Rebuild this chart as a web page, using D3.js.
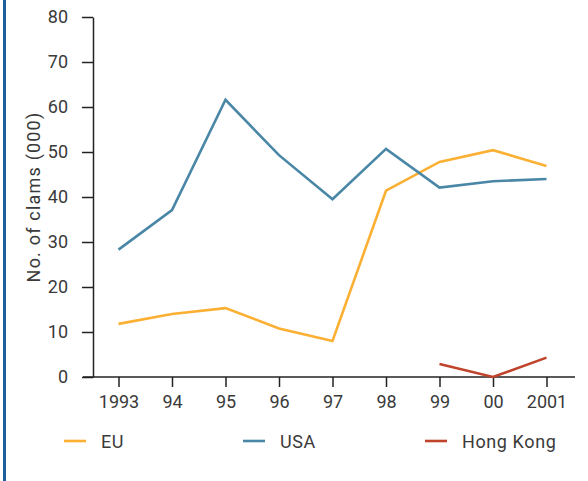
<!DOCTYPE html>
<html>
<head>
<meta charset="utf-8">
<script src="https://cdn.jsdelivr.net/npm/d3@7"></script>
<style>
  body { margin: 0; background: #fff; }
  text { font-family: "Roboto", "DejaVu Sans", sans-serif; fill: #3a3a3a; }
</style>
</head>
<body>
<div id="graphId"></div>
<script>
var years = ["1993", "94", "95", "96", "97", "98", "99", "00", "2001"];
var euValues = [11.8, 14, 15.3, 10.8, 8, 41.4, 47.8, 50.4, 46.9];
var usaValues = [28.3, 37.1, 61.6, 49.3, 39.5, 50.7, 42.1, 43.5, 44];
var hkValues = [null, null, null, null, null, null, 2.9, 0, 4.3];
var yTicks = [0, 10, 20, 30, 40, 50, 60, 70, 80];
var seriesNames = ["EU", "USA", "Hong Kong"];
var seriesColors = ["#fbb034", "#4a87a7", "#c0432c"];

var wt = 588;
var ht = 481;
var fontSize = "18px";

var svg = d3.select("#graphId").append("svg")
    .attr("width", wt)
    .attr("height", ht);

// left blue rule
svg.append("rect")
    .attr("x", 3)
    .attr("y", 0)
    .attr("width", 3)
    .attr("height", ht)
    .attr("fill", "#1f5e9e");

var x = d3.scalePoint()
    .domain(years)
    .range([118.5, 546.5]);

var y = d3.scaleLinear()
    .domain([0, 80])
    .range([377, 17]);

// y axis
var yAxis = svg.append("g")
    .attr("transform", "translate(93,0)")
    .call(d3.axisLeft(y).tickValues(yTicks).tickSize(11).tickSizeOuter(0).tickPadding(14));
yAxis.select(".domain").attr("stroke", "#222").attr("stroke-width", 1.5);
yAxis.selectAll(".tick line").attr("stroke", "#222").attr("stroke-width", 1.5);
yAxis.selectAll("text").style("font-size", fontSize).attr("fill", "#3a3a3a");

// x axis
svg.append("line")
    .attr("x1", 83)
    .attr("x2", 575)
    .attr("y1", y(0))
    .attr("y2", y(0))
    .attr("stroke", "#222")
    .attr("stroke-width", 1.5);

var xAxis = svg.append("g")
    .attr("transform", "translate(0," + y(0) + ")")
    .call(d3.axisBottom(x).tickSize(10).tickSizeOuter(0).tickPadding(8));
xAxis.select(".domain").remove();
xAxis.selectAll(".tick line").attr("stroke", "#222").attr("stroke-width", 1.5);
xAxis.selectAll("text").style("font-size", fontSize).attr("fill", "#3a3a3a");

// axis title
svg.append("text")
    .attr("transform", "translate(40,197) rotate(-90)")
    .attr("text-anchor", "middle")
    .style("font-size", fontSize)
    .style("letter-spacing", "1.2px")
    .text("No. of clams (000)");

var line = d3.line()
    .defined(function (d) { return d != null; })
    .x(function (d, i) { return x(years[i]); })
    .y(function (d) { return y(d); });

[euValues, usaValues, hkValues].forEach(function (vals, k) {
    svg.append("path")
        .datum(vals)
        .attr("fill", "none")
        .attr("stroke", seriesColors[k])
        .attr("stroke-width", 2.6)
        .attr("stroke-linejoin", "miter")
        .attr("d", line);
});

// legend
var legendX = [64, 243, 425];
seriesNames.forEach(function (name, k) {
    svg.append("line")
        .attr("x1", legendX[k])
        .attr("x2", legendX[k] + 22)
        .attr("y1", 441)
        .attr("y2", 441)
        .attr("stroke", seriesColors[k])
        .attr("stroke-width", 2.6);
    svg.append("text")
        .attr("x", legendX[k] + 37)
        .attr("y", 447.5)
        .style("font-size", fontSize)
        .style("letter-spacing", "0.6px")
        .text(name);
});
</script>
</body>
</html>
